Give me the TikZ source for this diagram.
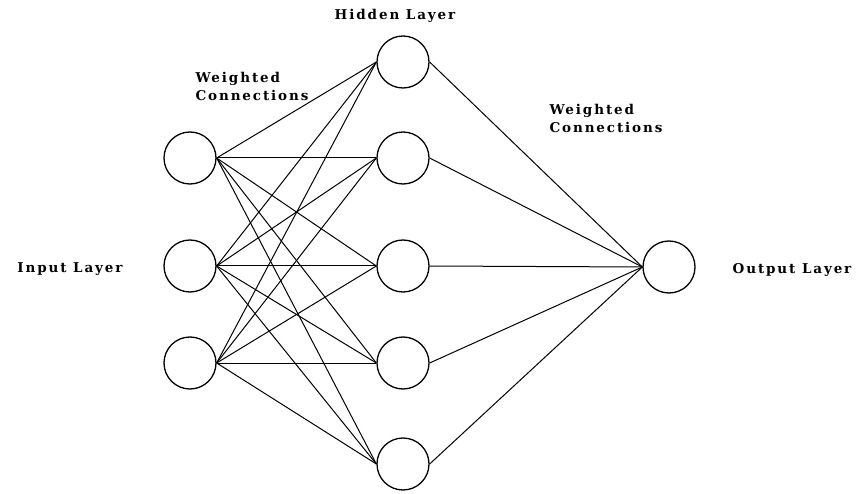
\documentclass[tikz,border=0pt]{standalone}
\usepackage{fontspec}
\setmainfont{DejaVu Serif}
\usepackage{tikz}
\usetikzlibrary{arrows.meta,positioning}

\begin{document}
\begin{tikzpicture}[x=1pt,y=-1pt,
    neuron/.style={circle,draw,line width=1.3pt,minimum size=52pt,inner sep=0pt},
    lbl/.style={font=\fontsize{13.5}{18}\selectfont\bfseries\addfontfeature{LetterSpace=14}},
    wire/.style={line width=1pt}]
  \useasboundingbox (0,0) rectangle (862,494);
  % input layer
  \node[neuron] (in1) at (190,158) {};
  \node[neuron] (in2) at (190,266) {};
  \node[neuron] (in3) at (190,363) {};
  % hidden layer
  \node[neuron] (hid1) at (403,62) {};
  \node[neuron] (hid2) at (403,158) {};
  \node[neuron] (hid3) at (403,266) {};
  \node[neuron] (hid4) at (403,363) {};
  \node[neuron] (hid5) at (403,464) {};
  % output layer
  \node[neuron] (out) at (669,267) {};
  \foreach \i in {1,2,3}
    \foreach \j in {1,...,5}
      \draw[wire] (in\i.east) -- (hid\j.west);
  \foreach \j in {1,...,5}
    \draw[wire] (hid\j.east) -- (out.west);
  \node[lbl] (inlbl) at (70,269) {Input Layer};
  \node[lbl] (outlbl) at (792,270) {Output Layer};
  \node[lbl] (hidlbl) at (395,16) {Hidden Layer};
  \node[lbl,anchor=west,align=left] (wleft) at (192,86) {Weighted\\Connections};
  \node[lbl,anchor=west,align=left] (wright) at (546,118) {Weighted\\Connections};
\end{tikzpicture}
\end{document}
